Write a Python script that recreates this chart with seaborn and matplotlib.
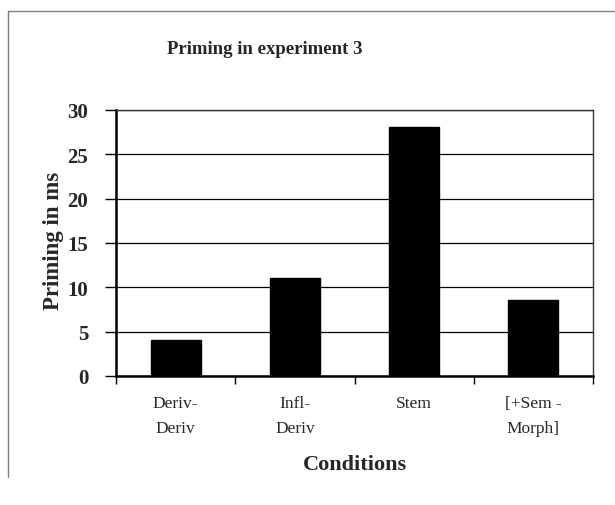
import matplotlib
matplotlib.use("Agg")
import matplotlib.pyplot as plt
from matplotlib.lines import Line2D
import seaborn as sns
import pandas as pd

# values
conditions = ["Deriv-\nDeriv", "Infl-\nDeriv", "Stem", "[+Sem -\nMorph]"]
priming = [4.1, 11.1, 28.1, 8.6]
y_ticks = [0, 5, 10, 15, 20, 25, 30]

df = pd.DataFrame({"condition": conditions, "priming": priming})

sns.set_style("white")
plt.rcParams["font.family"] = ["Liberation Serif", "DejaVu Serif"]

fig = plt.figure(figsize=(6.15, 5.06), dpi=100)
ax = fig.add_axes([116 / 615, 1 - 377 / 506, (593 - 116) / 615, (377 - 111) / 506])

sns.barplot(data=df, x="condition", y="priming", color="black", width=0.42,
            edgecolor="black", saturation=1, ax=ax, zorder=3)

ax.set_ylim(0, 30)
ax.set_xlim(-0.5, len(conditions) - 0.5)
ax.set_yticks(y_ticks)
ax.set_yticklabels([str(t) for t in y_ticks], fontsize=15, fontweight="bold")
ax.yaxis.grid(True, color="black", linewidth=0.9, zorder=0)

# ticks at category boundaries, labels at centres
ax.set_xticks([i - 0.5 for i in range(len(conditions) + 1)])
ax.set_xticklabels([])
ax.set_xticks(range(len(conditions)), minor=True)
ax.set_xticklabels(conditions, minor=True, fontsize=12.5, linespacing=1.7)
ax.tick_params(axis="x", which="major", bottom=True, direction="out", length=6, width=1, color="black")
ax.tick_params(axis="x", which="minor", bottom=True, length=0, pad=14)
ax.tick_params(axis="y", left=True, direction="out", length=8, width=1, color="black", pad=12)

for s in ["left", "bottom"]:
    ax.spines[s].set_color("black")
    ax.spines[s].set_linewidth(1.8)
for s in ["top", "right"]:
    ax.spines[s].set_color("#333333")
    ax.spines[s].set_linewidth(1.0)

ax.set_xlabel("Conditions", fontsize=16, fontweight="bold")
ax.xaxis.set_label_coords(0.5, -0.292)
ax.set_ylabel("Priming in ms", fontsize=16.5, fontweight="bold")
ax.yaxis.set_label_coords(-0.11, 0.51)

fig.text(265 / 615, 1 - 49 / 506, "Priming in experiment 3", ha="center", va="center",
         fontsize=13.5, fontweight="bold")

# chart area frame (cropped)
fig.add_artist(Line2D([8 / 615, 1], [1 - 12 / 506, 1 - 12 / 506], color="#808080", linewidth=1))
fig.add_artist(Line2D([8 / 615, 8 / 615], [1 - 12 / 506, 1 - 478 / 506], color="#808080", linewidth=1))

fig.savefig("out.png", dpi=100)
